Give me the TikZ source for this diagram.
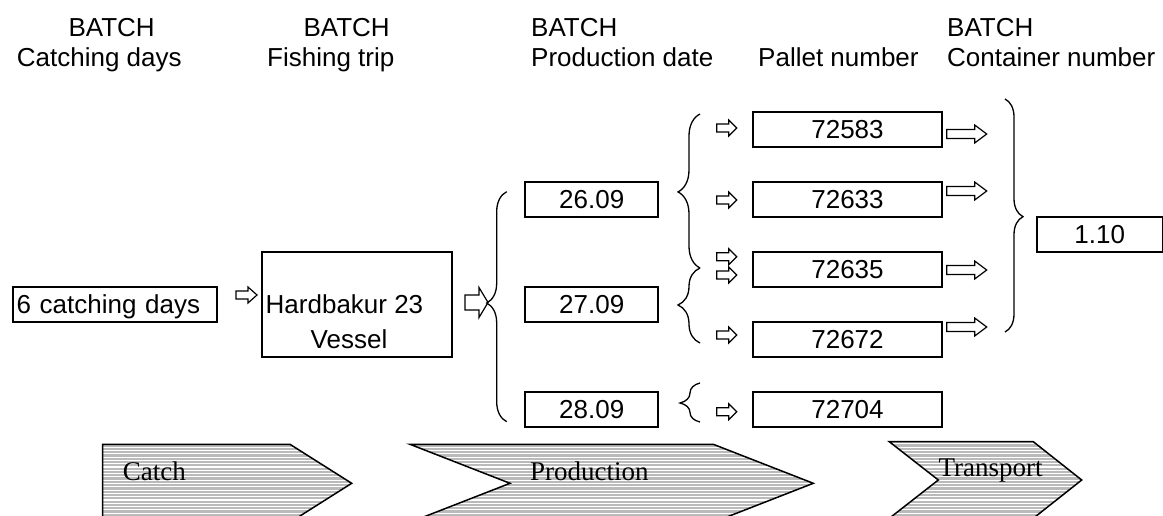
\documentclass[tikz,border=0pt]{standalone}
\usepackage{fontspec}
\setmainfont{Liberation Sans}
\newfontfamily\timesfont{Liberation Serif}
\usetikzlibrary{decorations.pathreplacing}
\definecolor{stripegray}{RGB}{186,186,186}
\newcommand\blockarrow[6]{%
  \draw[arrowshape] ({#1},{#2-#5}) -- ({#1+#3-#4},{#2-#5}) -- ({#1+#3-#4},{#2-#6})
    -- ({#1+#3},{#2}) -- ({#1+#3-#4},{#2+#6}) -- ({#1+#3-#4},{#2+#5}) -- ({#1},{#2+#5}) -- cycle;}
\begin{document}
\begin{tikzpicture}[x=1pt,y=-1pt,
  font=\fontsize{26}{30}\selectfont,
  box/.style={draw, line width=1.8pt, inner sep=0pt, minimum height=35pt,
    text height=18.6pt, text depth=0pt},
  txt/.style={inner sep=0pt, anchor=base west},
  serifl/.style={inner sep=0pt, anchor=base west, font=\timesfont\fontsize{27}{30}\selectfont},
  arrowshape/.style={draw, fill=white, line width=1.2pt, line join=miter},
  bracestyle/.style={decorate, line width=1.3pt},
  chev/.style={draw, line width=1.5pt, line join=miter}]
\useasboundingbox (0,0) rectangle (1163,516);

% header
\node[txt] (h1a) at (68.3,36.7) {BATCH};
\node[txt] (h1b) at (16.7,66.7) {Catching days};
\node[txt] (h2a) at (303.3,36.7) {BATCH};
\node[txt] (h2b) at (267,66.7) {Fishing trip};
\node[txt] (h3a) at (531,36.7) {BATCH};
\node[txt] (h3b) at (531,66.7) {Production date};
\node[txt] (h4) at (758,66.7) {Pallet number};
\node[txt] (h5a) at (947,36.7) {BATCH};
\node[txt] (h5b) at (947,66.7) {Container number};

% catching days and vessel
\node[box, anchor=west, text width=196.3pt, align=left, inner xsep=4pt] (days) at (11.7,304.2) {6 catching days};
\node[box, minimum width=190pt, minimum height=105pt] (vessel) at (356.7,304.2) {};
\node[txt] (vesselname) at (265.5,313.3) {Hardbakur 23};
\node[txt, anchor=base] (vesseltype) at (349,348.3) {Vessel};

% production dates
\node[box, minimum width=133.3pt] (d26) at (591.7,199.2) {26.09};
\node[box, minimum width=133.3pt] (d27) at (591.7,304.2) {27.09};
\node[box, minimum width=133.3pt] (d28) at (591.7,409.2) {28.09};

% pallets
\node[box, minimum width=189.6pt] (p1) at (847.5,129.2) {72583};
\node[box, minimum width=189.6pt] (p2) at (847.5,199.2) {72633};
\node[box, minimum width=189.6pt] (p3) at (847.5,269.2) {72635};
\node[box, minimum width=189.6pt] (p4) at (847.5,339.2) {72672};
\node[box, minimum width=189.6pt] (p5) at (847.5,409.2) {72704};

% container
\node[box, minimum width=126pt] (c110) at (1099.7,234.2) {1.10};

% arrows
\blockarrow{236}{295}{21}{9}{4}{8}
\blockarrow{465}{302.5}{23}{9}{7.5}{15}
\foreach \yy in {128,200,256.7,275,335,411.7}
  {\blockarrow{716.7}{\yy}{20}{8}{4}{8}}
\foreach \yy in {134,191,270,327}
  {\blockarrow{946.7}{\yy}{40}{12}{4.5}{9}}

% braces
\draw[bracestyle, decoration={brace, amplitude=20pt, aspect=0.516}] (506.7,421.7) -- (506.7,191.7);
\draw[bracestyle, decoration={brace, amplitude=22pt, aspect=0.494}] (700,268) -- (700,114);
\draw[bracestyle, decoration={brace, amplitude=22pt, aspect=0.507}] (700,343) -- (700,268);
\draw[bracestyle, decoration={brace, amplitude=20pt, aspect=0.487}] (700,422) -- (700,383);
\draw[bracestyle, decoration={brace, amplitude=18pt, aspect=0.505}] (1005,99) -- (1005,332);

% chevrons
\begin{scope}
  \clip (102.7,444.3) -- (290,444.3) -- (351.7,483.3) -- (290,522.3) -- (102.7,522.3) -- cycle
        (410,444.3) -- (713.3,444.3) -- (813.3,483.3) -- (713.3,522.3) -- (410,522.3) -- (510,483.3) -- cycle
        (889.3,441.7) -- (1033.3,441.7) -- (1081.7,480) -- (1033.3,518.3) -- (889.3,518.3) -- (938.3,480) -- cycle;
  \fill[stripegray] (95,435) rectangle (1095,530);
  \foreach \yy in {440.6,443.9,...,530}
    {\draw[white, line width=1.1pt] (95,\yy) -- (1095,\yy);}
\end{scope}
\draw[chev] (102.7,444.3) -- (290,444.3) -- (351.7,483.3) -- (290,522.3) -- (102.7,522.3) -- cycle;
\draw[chev] (410,444.3) -- (713.3,444.3) -- (813.3,483.3) -- (713.3,522.3) -- (410,522.3) -- (510,483.3) -- cycle;
\draw[chev] (889.3,441.7) -- (1033.3,441.7) -- (1081.7,480) -- (1033.3,518.3) -- (889.3,518.3) -- (938.3,480) -- cycle;
\node[serifl] (catchlbl) at (122.7,480) {Catch};
\node[serifl] (prodlbl) at (530,480) {Production};
\node[serifl] (translbl) at (938.3,476) {Transport};
\end{tikzpicture}
\end{document}
